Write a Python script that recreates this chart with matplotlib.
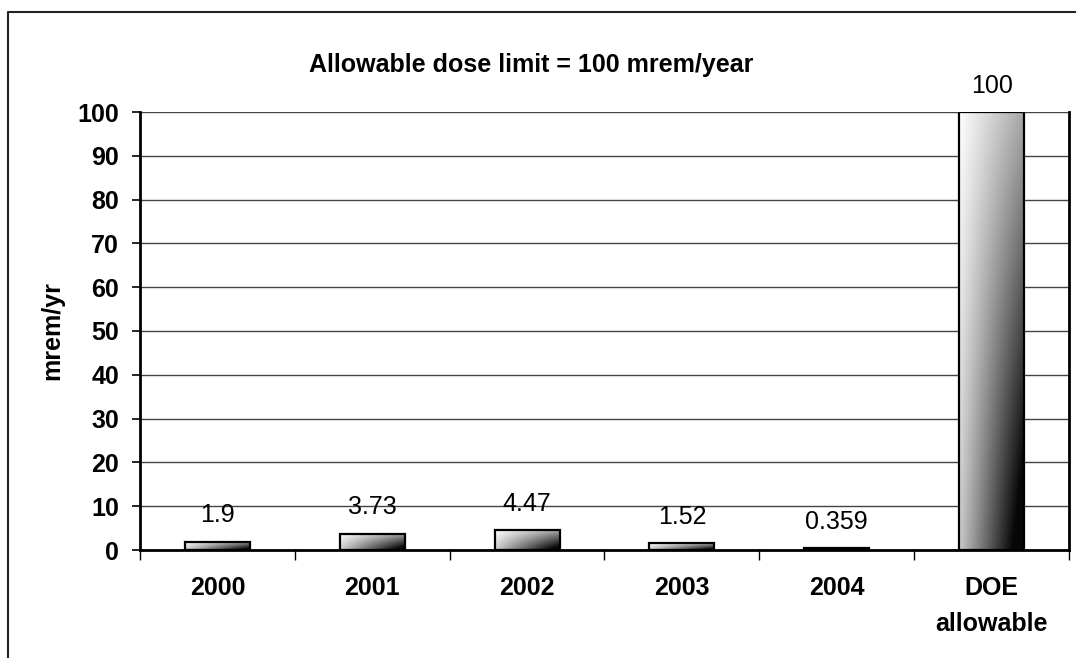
import numpy as np
import matplotlib.pyplot as plt
from matplotlib.lines import Line2D

plt.rcParams['font.family'] = ['Liberation Sans', 'DejaVu Sans']

categories = ["2000", "2001", "2002", "2003", "2004", "DOE\nallowable"]
doses = [1.9, 3.73, 4.47, 1.52, 0.359, 100]
value_labels = ["1.9", "3.73", "4.47", "1.52", "0.359", "100"]
yticks = [0, 10, 20, 30, 40, 50, 60, 70, 80, 90, 100]

fig = plt.figure(figsize=(10.76, 6.58), dpi=100, facecolor="white")
ax = fig.add_axes([140/1076, 1 - 550/658, 929/1076, 438/658])

x = np.arange(len(categories))
width = 0.42

# diagonal-ish gradient: white top-left -> black bottom-right
gx = np.linspace(0, 1, 200)[None, :]
gy = np.linspace(0, 1, 200)[:, None]  # 0 at top row
grad = 1 - gx * (0.35 + 0.6 * gy) - 0.2 * gy
grad = np.clip(grad, 0.03, 1)

bars = ax.bar(x, doses, width=width, facecolor="none", edgecolor="black",
              linewidth=1.6, zorder=3)
for b in bars:
    x0, y0 = b.get_x(), b.get_y()
    w, h = b.get_width(), b.get_height()
    im = ax.imshow(grad, cmap="gray", vmin=0, vmax=1, aspect="auto",
                   extent=[x0, x0 + w, y0, y0 + h], origin="upper",
                   zorder=2, interpolation="bilinear")
    im.set_clip_path(b)

for xi, v, lab in zip(x, doses, value_labels):
    ax.annotate(lab, (xi, v), xytext=(0, 14), textcoords="offset points",
                ha="center", va="baseline", fontsize=18)

ax.set_xlim(-0.5, len(categories) - 0.5)
ax.set_ylim(0, 100)
ax.set_yticks(yticks)
ax.set_yticklabels([str(t) for t in yticks], fontsize=18, fontweight="bold")
ax.tick_params(axis="y", direction="out", length=6, width=1.2, pad=9)

ax.set_xticks(x)
ax.set_xticklabels(categories, fontsize=18, fontweight="bold", linespacing=1.6)
ax.tick_params(axis="x", which="major", length=0, pad=19)
ax.set_xticks(np.arange(-0.5, len(categories)), minor=True)
ax.tick_params(axis="x", which="minor", direction="out", length=7, width=1.0)

ax.yaxis.grid(True, color="#444444", linewidth=1.0, zorder=0)
ax.set_axisbelow(True)

ax.spines["top"].set_visible(False)
for s in ["left", "right", "bottom"]:
    ax.spines[s].set_linewidth(2.0)
    ax.spines[s].set_color("black")
    ax.spines[s].set_zorder(4)

fig.text(531/1076, 1 - 72/658, "Allowable dose limit = 100 mrem/year",
         ha="center", va="baseline", fontsize=18, fontweight="bold")
fig.text(52/1076, 1 - 331/658, "mrem/yr", rotation=90, ha="center",
         va="center", fontsize=18, fontweight="bold")

# outer chart border (only left and top visible in the crop)
fig.add_artist(Line2D([8/1076, 8/1076, 1.0], [0.0, 1 - 12/658, 1 - 12/658],
                      transform=fig.transFigure, color="#222222", linewidth=1.5))

fig.savefig("out.png", dpi=100, facecolor="white")
